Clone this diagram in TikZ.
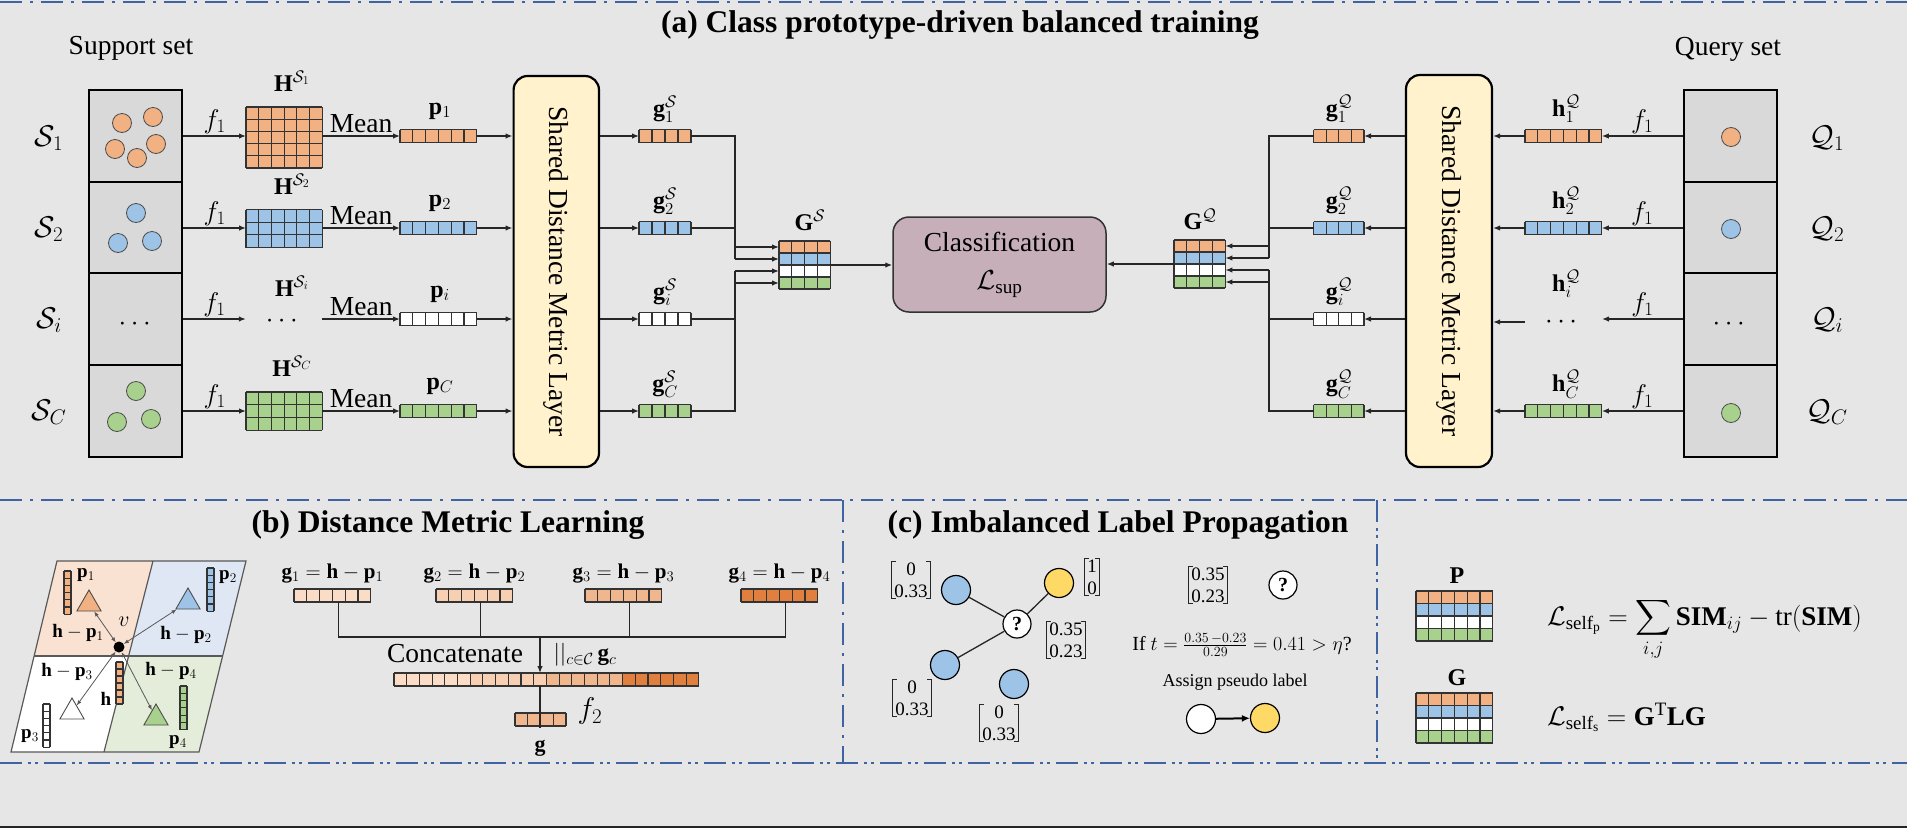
\documentclass[tikz,border=0pt]{standalone}
\usepackage{fix-cm}
\usepackage{amsmath}
\usepackage{fontspec}
\setmainfont{Liberation Serif}
\usetikzlibrary{arrows.meta,shapes.geometric}
\definecolor{bg}{HTML}{E6E6E6}
\definecolor{boxg}{HTML}{D9D9D9}
\definecolor{cor}{HTML}{F2B183}
\definecolor{cbl}{HTML}{9DC3E6}
\definecolor{cgr}{HTML}{A9D18E}
\definecolor{cream}{HTML}{FFF2CC}
\definecolor{mauve}{HTML}{C6AFB9}
\definecolor{dashblue}{HTML}{3F63A3}
\definecolor{cyel}{HTML}{FFD966}
\definecolor{lor}{HTML}{F9E2D2}
\definecolor{lbl}{HTML}{DEE7F3}
\definecolor{lgr}{HTML}{E3EDDA}
\definecolor{ga}{HTML}{FBDCC6}
\definecolor{gb}{HTML}{F7CFB2}
\definecolor{gc}{HTML}{F0B68E}
\definecolor{gd}{HTML}{E07F3E}
\tikzset{
 ln/.style={line width=1.3pt, draw=black!85},
 arr/.style={ln, -{Latex[length=7pt,width=5.5pt]}},
 cl/.style={line width=1.1pt, draw=black!80},
 dla/.style={draw=dashblue, line width=2.6pt, dash pattern=on 22pt off 8pt on 3pt off 8pt},
 dlb/.style={draw=dashblue, line width=2.6pt, dash pattern=on 22pt off 6pt on 3pt off 4pt on 3pt off 6pt},
 setbox/.style={draw=black, line width=2.5pt, fill=boxg, minimum width=93pt, minimum height=91.75pt, inner sep=0pt},
 sdot/.style={circle, draw=black!70, line width=0.8pt, minimum size=19pt, inner sep=0pt},
 shared/.style={draw=black, line width=2.2pt, fill=cream, rounded corners=14pt, inner sep=0pt},
 txt/.style={font=\fontsize{27.5}{33}\selectfont, inner sep=0pt},
 ttl/.style={font=\fontsize{31.5}{38}\selectfont\bfseries, inner sep=0pt},
 rowlab/.style={font=\fontsize{30}{36}\selectfont, inner sep=0pt},
 flab/.style={font=\fontsize{27}{32}\selectfont, inner sep=2pt},
 vlab/.style={font=\fontsize{24}{29}\selectfont, inner sep=0pt, anchor=base},
 hlab/.style={font=\fontsize{24}{29}\selectfont, inner sep=0pt, anchor=base},
 blab/.style={font=\fontsize{19}{23}\selectfont, inner sep=0pt},
 glab/.style={font=\fontsize{21}{25}\selectfont, inner sep=0pt, anchor=base},
 mat/.style={font=\fontsize{19}{22}\selectfont, inner sep=0pt},
 tri/.style={regular polygon, regular polygon sides=3, minimum size=28pt, inner sep=0pt, draw=black!70, line width=0.9pt},
 parr/.style={line width=0.8pt, draw=black!65, {Latex[length=5pt,width=4pt]}-{Latex[length=5pt,width=4pt]}},
 cnode/.style={circle, draw=black, line width=1.2pt, minimum size=29pt, inner sep=0pt},
 brk/.style={line width=1pt, draw=black!85},
}
\newcommand{\cellblock}[7]{%
  \fill[#7] (#1,#2) rectangle ++({#3*#5},{#4*#6});
  \foreach \k in {0,...,#3}{\draw[cl] ({#1+\k*#5},#2) -- ++(0,{#4*#6});}
  \foreach \k in {0,...,#4}{\draw[cl] (#1,{#2+\k*#6}) -- ++({#3*#5},0);}
}
\newcommand{\mvec}[8]{%
  \cellblock{#2}{#3}{#4}{#5}{#6}{#7}{#8}
  \node[inner sep=0pt,outer sep=0pt,minimum width={#4*#6*1pt},minimum height={#5*#7*1pt},anchor=north west] (#1) at (#2,#3) {};
}
\newcommand{\gmat}[6]{%
  \cellblock{#2}{#3}{#4}{1}{#5}{#6}{cor}
  \cellblock{#2}{#3+#6}{#4}{1}{#5}{#6}{cbl}
  \cellblock{#2}{#3+2*#6}{#4}{1}{#5}{#6}{white}
  \cellblock{#2}{#3+3*#6}{#4}{1}{#5}{#6}{cgr}
  \node[inner sep=0pt,outer sep=0pt,minimum width={#4*#5*1pt},minimum height={4*#6*1pt},anchor=north west] (#1) at (#2,#3) {};
}
\newcommand{\cvec}[5]{%
  \node[mat, align=center, inner xsep=2.5pt, inner ysep=1pt] (#1) at (#2,#3) {#4\\#5};
  \draw[brk] ([xshift=4pt]#1.north west) -- (#1.north west) -- (#1.south west) -- ([xshift=4pt]#1.south west);
  \draw[brk] ([xshift=-4pt]#1.north east) -- (#1.north east) -- (#1.south east) -- ([xshift=-4pt]#1.south east);
}
\begin{document}
\begin{tikzpicture}[x=1pt,y=-1pt]
\useasboundingbox (0,0) rectangle (1907,828);
\fill[bg] (0,0) rectangle (1907,828);
% frame lines
\draw[dla] (0,2) -- (1907,2);
\draw[dla] (0,500) -- (1907,500);
\draw[dlb] (0,763) -- (1907,763);
\draw[dla] (843,500) -- (843,763);
\draw[dlb] (1377,500) -- (1377,763);
\draw[black!85, line width=2pt] (0,827) -- (1907,827);

% ================= (a) =================
\node[ttl] (ta) at (960,25) {(a) Class prototype-driven balanced training};
\node[txt] (tsup) at (131,48) {Support set};
\node[txt] (tqry) at (1728,49) {Query set};

\foreach \n/\yy/\cc in {1/136/cor,2/228/cbl,3/319/white,4/411/cgr}{
  \node[setbox] (s\n) at (135.5,\yy) {};
  \node[setbox] (q\n) at (1730.5,\yy) {};
  \mvec{p\n}{400}{\yy-6.5}{6}{1}{12.8}{13}{\cc}
  \mvec{gs\n}{639}{\yy-6.5}{4}{1}{13}{13}{\cc}
  \mvec{gq\n}{1313.6}{\yy-6.5}{4}{1}{12.6}{13}{\cc}
}
% support points
\node[sdot,fill=cor] (s1a) at (122,123) {};
\node[sdot,fill=cor] (s1b) at (153,117) {};
\node[sdot,fill=cor] (s1c) at (115,149) {};
\node[sdot,fill=cor] (s1d) at (156,144) {};
\node[sdot,fill=cor] (s1e) at (137,158) {};
\node[sdot,fill=cbl] (s2a) at (136,213) {};
\node[sdot,fill=cbl] (s2b) at (118,243) {};
\node[sdot,fill=cbl] (s2c) at (152,241) {};
\node[txt] (s3d) at (137,324) {$\cdots$};
\node[sdot,fill=cgr] (s4a) at (136,391) {};
\node[sdot,fill=cgr] (s4b) at (117,422) {};
\node[sdot,fill=cgr] (s4c) at (151,419) {};
% query points
\node[sdot,fill=cor] (q1a) at (1731,137) {};
\node[sdot,fill=cbl] (q2a) at (1731,229) {};
\node[txt] (q3d) at (1731,324) {$\cdots$};
\node[sdot,fill=cgr] (q4a) at (1731,413) {};
% row labels
\node[rowlab] (ls1) at (49,138) {$\mathcal{S}_1$};
\node[rowlab] (ls2) at (49,229) {$\mathcal{S}_2$};
\node[rowlab] (ls3) at (49,320) {$\mathcal{S}_i$};
\node[rowlab] (ls4) at (49,412) {$\mathcal{S}_C$};
\node[rowlab] (lq1) at (1827,138) {$\mathcal{Q}_1$};
\node[rowlab] (lq2) at (1827,229) {$\mathcal{Q}_2$};
\node[rowlab] (lq3) at (1827,320) {$\mathcal{Q}_i$};
\node[rowlab] (lq4) at (1827,412) {$\mathcal{Q}_C$};
% H matrices
\mvec{H1}{246}{107}{6}{5}{12.7}{12.2}{cor}
\mvec{H2}{246}{209.5}{6}{3}{12.7}{12.7}{cbl}
\node[txt, minimum width=76.2pt] (H3) at (284.1,321) {$\cdots$};
\mvec{H4}{246}{392}{6}{3}{12.7}{12.7}{cgr}
\node[hlab] (lH1) at (292,91) {$\mathbf{H}^{\scriptstyle\mathcal{S}_1}$};
\node[hlab] (lH2) at (292,194) {$\mathbf{H}^{\scriptstyle\mathcal{S}_2}$};
\node[hlab] (lH3) at (292,296) {$\mathbf{H}^{\scriptstyle\mathcal{S}_i}$};
\node[hlab] (lH4) at (292,376) {$\mathbf{H}^{\scriptstyle\mathcal{S}_C}$};
% h query
\mvec{hq1}{1525}{129.5}{6}{1}{12.8}{13}{cor}
\mvec{hq2}{1525}{221.5}{6}{1}{12.8}{13}{cbl}
\node[txt, minimum width=76.8pt] (hq3) at (1563.4,322) {$\cdots$};
\mvec{hq4}{1525}{404.5}{6}{1}{12.8}{13}{cgr}
% shared layers
\node[shared, minimum width=85.4pt, minimum height=391pt] (shL) at (556.3,271.5) {};
\node[txt, rotate=-90] (shLt) at (shL.center) {Shared Distance Metric Layer};
\node[shared, minimum width=86pt, minimum height=392pt] (shR) at (1449,271) {};
\node[txt, rotate=-90] (shRt) at (shR.center) {Shared Distance Metric Layer};
% vector labels
\foreach \n/\yy/\sb/\hy in {1/136/1/116,2/228/2/208,3/319/i/291,4/411/C/391}{
  \node[vlab] (lp\n) at (440,\yy-22) {$\mathbf{p}_{\sb}$};
  \node[vlab] (lgs\n) at (665,\yy-20) {$\mathbf{g}^{\mathcal{S}}_{\sb}$};
  \node[vlab] (lgq\n) at (1339,\yy-20) {$\mathbf{g}^{\mathcal{Q}}_{\sb}$};
  \node[vlab] (lhq\n) at (1566,\hy) {$\mathbf{h}^{\mathcal{Q}}_{\sb}$};
}
% row connectors
\foreach \n in {1,2,3,4}{
  \draw[arr] (s\n.east) -- node[above,flab] (fs\n) {$f_1$} (s\n.east -| H\n.west);
  \draw[arr] (H\n.east |- p\n.west) -- node[above,txt,inner sep=3pt] (mn\n) {Mean} (p\n.west);
  \draw[arr] (p\n.east) -- (p\n.east -| shL.west);
  \draw[arr] (gs\n.west -| shL.east) -- (gs\n.west);
  \draw[arr] (q\n.west) -- node[above,flab] (fq\n) {$f_1$} (q\n.west -| hq\n.east);
  \draw[arr] (hq\n.west) -- (hq\n.west -| shR.east);
  \draw[arr] (gq\n.east -| shR.west) -- (gq\n.east);
}
% G matrices
\gmat{GS}{779}{241}{4}{12.85}{12}
\gmat{GQ}{1174}{240}{4}{12.85}{12}
\node[hlab] (lGS) at (810,230) {$\mathbf{G}^{\mathcal{S}}$};
\node[hlab] (lGQ) at (1200,229) {$\mathbf{G}^{\mathcal{Q}}$};
% buses
\coordinate (bs1) at (735,247); \coordinate (bs2) at (735,259);
\coordinate (bs3) at (735,271); \coordinate (bs4) at (735,283);
\draw[ln] (gs1.east) -| (bs2);
\draw[ln] (gs2.east) -- (gs2.east -| bs1);
\draw[ln] (gs4.east) -| (bs3);
\draw[ln] (gs3.east) -- (gs3.east -| bs3);
\foreach \k in {1,2,3,4}{\draw[arr] (bs\k) -- (bs\k -| GS.west);}
\coordinate (bq1) at (1269,246); \coordinate (bq2) at (1269,258);
\coordinate (bq3) at (1269,270); \coordinate (bq4) at (1269,282);
\draw[ln] (gq1.west) -| (bq2);
\draw[ln] (gq2.west) -- (gq2.west -| bq1);
\draw[ln] (gq4.west) -| (bq3);
\draw[ln] (gq3.west) -- (gq3.west -| bq3);
\foreach \k in {1,2,3,4}{\draw[arr] (bq\k) -- (bq\k -| GQ.east);}
% classification
\node[draw=black!80, line width=1.5pt, fill=mauve, rounded corners=16pt, minimum width=213pt, minimum height=95pt, align=center, txt] (cls) at (999.5,264.5) {Classification\\[5pt]$\mathcal{L}_{\mathrm{sup}}$};
\draw[arr] (GS.east) -- (GS.east -| cls.west);
\draw[arr] (GQ.west) -- (GQ.west -| cls.east);

% ================= (b) =================
\node[ttl] (tb) at (448,525) {(b) Distance Metric Learning};
\fill[lor] (57,561) -- (153,561) -- (128.6,656) -- (34,656) -- cycle;
\fill[lbl] (153,561) -- (246,561) -- (222.6,656) -- (128.6,656) -- cycle;
\fill[white] (34,656) -- (128.6,656) -- (104,752) -- (11,752) -- cycle;
\fill[lgr] (128.6,656) -- (222.6,656) -- (199,752) -- (104,752) -- cycle;
\draw[black!65, line width=1.2pt] (57,561) -- (246,561) -- (199,752) -- (11,752) -- cycle;
\draw[black!65, line width=1.2pt] (34,656) -- (222.6,656);
\draw[black!65, line width=1.2pt] (153,561) -- (104,752);
\node[tri, fill=cor] (t1) at (89,604) {};
\node[tri, fill=cbl] (t2) at (188,602) {};
\node[tri, fill=white] (t3) at (72,712) {};
\node[tri, fill=cgr] (t4) at (156,718) {};
\mvec{vp1}{64}{571}{1}{6}{7}{7.2}{cor}
\mvec{vp2}{207}{568}{1}{6}{7}{7.2}{cbl}
\mvec{vh}{116}{662}{1}{6}{7}{7}{cor}
\mvec{vp3}{43}{704}{1}{6}{7}{7.2}{white}
\mvec{vp4}{180}{686}{1}{6}{7}{7.3}{cgr}
\node[circle, fill=black, minimum size=11pt, inner sep=0pt] (v) at (119,647) {};
\draw[parr] (v) -- (t1);
\draw[parr] (v) -- (t2);
\draw[parr] (v) -- (t3);
\draw[parr] (v) -- (t4);
\node[blab, font=\fontsize{22}{26}\selectfont] (lv) at (124,622) {$v$};
\node[blab] (lvp1) at (86,575) {$\mathbf{p}_1$};
\node[blab] (lvp2) at (228,577) {$\mathbf{p}_2$};
\node[blab] (lvh) at (106,699) {$\mathbf{h}$};
\node[blab] (lvp3) at (30,736) {$\mathbf{p}_3$};
\node[blab] (lvp4) at (178,742) {$\mathbf{p}_4$};
\node[blab] (ld1) at (78,633) {$\mathbf{h}-\mathbf{p}_1$};
\node[blab] (ld2) at (186,635) {$\mathbf{h}-\mathbf{p}_2$};
\node[blab] (ld3) at (67,672) {$\mathbf{h}-\mathbf{p}_3$};
\node[blab] (ld4) at (171,671) {$\mathbf{h}-\mathbf{p}_4$};
% g vectors
\mvec{gb1}{294}{589}{6}{1}{12.8}{13}{ga}
\mvec{gb2}{436}{589}{6}{1}{12.8}{13}{gb}
\mvec{gb3}{585}{589}{6}{1}{12.8}{13}{gc}
\mvec{gb4}{741}{589}{6}{1}{12.8}{13}{gd}
\node[glab] (lgb1) at (332.4,578) {$\mathbf{g}_1=\mathbf{h}-\mathbf{p}_1$};
\node[glab] (lgb2) at (474.4,578) {$\mathbf{g}_2=\mathbf{h}-\mathbf{p}_2$};
\node[glab] (lgb3) at (623.4,578) {$\mathbf{g}_3=\mathbf{h}-\mathbf{p}_3$};
\node[glab] (lgb4) at (779.4,578) {$\mathbf{g}_4=\mathbf{h}-\mathbf{p}_4$};
\coordinate (cb1) at (338.8,637); \coordinate (cb2) at (480.8,637);
\coordinate (cb3) at (629.8,637); \coordinate (cb4) at (785.8,637);
\coordinate (cbm) at (540,637);
\draw[ln] (gb1.south -| cb1) -- (cb1) -- (cb4) -- (gb4.south -| cb4);
\draw[ln] (gb2.south -| cb2) -- (cb2);
\draw[ln] (gb3.south -| cb3) -- (cb3);
% concatenated vector
\cellblock{394}{673}{6}{1}{12.7}{13}{ga}
\cellblock{394+76.2}{673}{6}{1}{12.7}{13}{gb}
\cellblock{394+152.4}{673}{6}{1}{12.7}{13}{gc}
\cellblock{394+228.6}{673}{6}{1}{12.7}{13}{gd}
\node[inner sep=0pt,outer sep=0pt,minimum width=304.8pt,minimum height=13pt,anchor=north west] (cat) at (394,673) {};
\draw[arr] (cbm) -- (cbm |- cat.north);
\node[txt] (lcat) at (455,654) {Concatenate};
\node[blab, font=\fontsize{23}{27}\selectfont] (lcc) at (585,655) {$||_{c\in\mathcal{C}}\,\mathbf{g}_c$};
\mvec{gout}{515}{713}{4}{1}{12.75}{13}{gc}
\draw[ln] (cat.south -| cbm) -- ([yshift=-2pt]gout.south -| cbm);
\node[txt, font=\fontsize{30}{36}\selectfont] (lf2) at (590,711) {$f_2$};
\node[hlab, anchor=center, font=\fontsize{22}{26}\selectfont] (lgout) at (540,748) {$\mathbf{g}$};

% ================= (c) =================
\node[ttl] (tc) at (1118,525) {(c) Imbalanced Label Propagation};
\node[cnode, fill=cbl] (b1) at (956,590) {};
\node[cnode, fill=cbl] (b2) at (945,665) {};
\node[cnode, fill=cbl] (b3) at (1014,684) {};
\node[cnode, fill=cyel] (y1) at (1059,583) {};
\node[cnode, fill=white, minimum size=28pt, font=\fontsize{20}{24}\selectfont\bfseries] (qm) at (1017,624) {?};
\draw[ln] (b1) -- (qm);
\draw[ln] (y1) -- (qm);
\draw[ln] (b2) -- (qm);
\cvec{m1}{911}{580}{0}{0.33}
\cvec{m2}{1092}{577}{1}{0}
\cvec{m3}{1066}{640}{0.35}{0.23}
\cvec{m4}{912}{698}{0}{0.33}
\cvec{m5}{999}{723}{0}{0.33}
\cvec{m6}{1208}{585}{0.35}{0.23}
\node[cnode, fill=white, minimum size=28pt, font=\fontsize{20}{24}\selectfont\bfseries] (qm2) at (1283,585) {?};
\node[mat, font=\fontsize{20}{24}\selectfont] (thr) at (1242,645) {If $t=\frac{0.35\,-0.23}{0.29}=0.41>\eta$?};
\node[mat, font=\fontsize{18}{22}\selectfont] (asg) at (1235,682) {Assign pseudo label};
\node[cnode, fill=white] (c1) at (1201,719) {};
\node[cnode, fill=cyel] (c2) at (1265,718) {};
\draw[line width=2pt, -{Latex[length=8pt,width=7pt]}] (c1) -- (c2);

% ================= right panel =================
\gmat{Pm}{1416}{591}{6}{12.8}{12.5}
\gmat{Gm}{1416}{693}{6}{12.8}{12.5}
\node[vlab] (lPm) at (1457,583) {$\mathbf{P}$};
\node[vlab] (lGm) at (1457,685) {$\mathbf{G}$};
\node[anchor=base west, inner sep=0pt, font=\fontsize{27}{32}\selectfont] (fp) at (1547,625) {$\displaystyle\mathcal{L}_{\mathrm{self}_{\mathrm{p}}}=\sum_{i,j}\mathbf{SIM}_{ij}-\mathrm{tr}(\mathbf{SIM})$};
\node[anchor=base west, inner sep=0pt, font=\fontsize{27}{32}\selectfont] (fs) at (1547,725) {$\mathcal{L}_{\mathrm{self}_{\mathrm{s}}}=\mathbf{G}^{\mathrm{T}}\mathbf{LG}$};
\end{tikzpicture}
\end{document}
